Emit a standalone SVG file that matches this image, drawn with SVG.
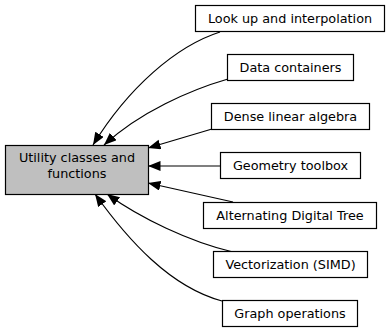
<svg xmlns="http://www.w3.org/2000/svg" width="389" height="332" viewBox="0 0 389 332">
  <defs>
    <marker id="arrow" markerUnits="userSpaceOnUse" markerWidth="13" markerHeight="11" refX="12.5" refY="5" orient="auto">
      <path d="M0,0 L12.5,5 L0,10 z" fill="#000"/>
    </marker>
    <style>
      .box { fill: #ffffff; stroke: #000; stroke-width: 1.2; }
      .main { fill: #bfbfbf; stroke: #000; stroke-width: 1.2; }
      .lbl { font-family: "DejaVu Sans", sans-serif; font-size: 12.8px; fill: #000; text-anchor: middle; }
      .edge { fill: none; stroke: #000; stroke-width: 1.2; marker-end: url(#arrow); }
    </style>
  </defs>
  <rect width="389" height="332" fill="#ffffff"/>

  <g id="edges">
    <path class="edge" d="M220,32 C176,46 128,88 93,145"/>
    <path class="edge" d="M228,79 C190,90 140,112 104,145"/>
    <path class="edge" d="M212,129 L148,148"/>
    <path class="edge" d="M220,166 L148,166"/>
    <path class="edge" d="M233,202 L148,183"/>
    <path class="edge" d="M233,252 C190,242 140,218 107,194"/>
    <path class="edge" d="M222,301 C170,287 128,240 95,194"/>
  </g>

  <g id="node-utility">
    <rect class="main" x="5.5" y="145.5" width="143" height="49"/>
    <text class="lbl" x="77" y="162">Utility classes and</text>
    <text class="lbl" x="77" y="177.5">functions</text>
  </g>

  <g id="node-lookup">
    <rect class="box" x="195.5" y="5.5" width="189" height="26"/>
    <text class="lbl" x="290" y="22.5">Look up and interpolation</text>
  </g>

  <g id="node-containers">
    <rect class="box" x="227.5" y="54.5" width="126" height="26"/>
    <text class="lbl" x="290.5" y="71.5">Data containers</text>
  </g>

  <g id="node-dense">
    <rect class="box" x="211.5" y="103.5" width="158" height="26"/>
    <text class="lbl" x="290.5" y="120.5">Dense linear algebra</text>
  </g>

  <g id="node-geometry">
    <rect class="box" x="220.5" y="152.5" width="140" height="26"/>
    <text class="lbl" x="290.5" y="169.5">Geometry toolbox</text>
  </g>

  <g id="node-adt">
    <rect class="box" x="203.5" y="202.5" width="173" height="26"/>
    <text class="lbl" x="290" y="219.5">Alternating Digital Tree</text>
  </g>

  <g id="node-simd">
    <rect class="box" x="213.5" y="251.5" width="154" height="26"/>
    <text class="lbl" x="290.5" y="268.5">Vectorization (SIMD)</text>
  </g>

  <g id="node-graph">
    <rect class="box" x="222.5" y="300.5" width="135" height="26"/>
    <text class="lbl" x="290" y="317.5">Graph operations</text>
  </g>
</svg>
